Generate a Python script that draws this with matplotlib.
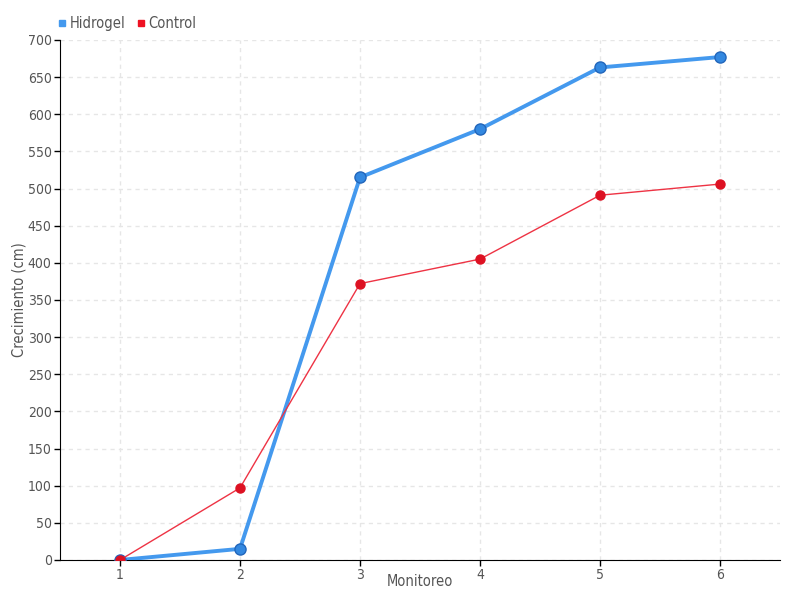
import numpy as np
import matplotlib.pyplot as plt
from matplotlib.lines import Line2D

monitoreo = [1, 2, 3, 4, 5, 6]
hidrogel = [0, 15, 515, 580, 663, 677]
control = [0, 97, 372, 405, 491, 506]
y_ticks = list(range(0, 701, 50))

plt.rcParams['font.family'] = ['DejaVu Sans']
plt.rcParams['font.stretch'] = 'condensed'

fig = plt.figure(figsize=(8, 6), dpi=100)
ax = fig.add_axes([0.075, 0.0667, 0.9, 0.8667])

txt = '#555555'
ax.plot(monitoreo, hidrogel, color='#4499ee', lw=2.8, marker='o', ms=8,
        mfc='#3388e0', mec='#2266bb', mew=1, zorder=3)
ax.plot(monitoreo, control, color='#ee3344', lw=1, marker='o', ms=6.5,
        mfc='#dd1122', mec='#dd1122', zorder=4)

ax.set_xlim(0.5, 6.5)
ax.set_ylim(0, 700)
ax.set_xticks(monitoreo)
ax.set_yticks(y_ticks)
ax.grid(True, color='#e6e6e6', ls=(0, (3, 3)), lw=1)
ax.set_axisbelow(True)
for s in ['top', 'right']:
    ax.spines[s].set_visible(False)
ax.spines['left'].set_color('black')
ax.spines['bottom'].set_color('black')
ax.tick_params(axis='both', colors='black', labelcolor=txt, labelsize=10, length=4, width=1, pad=2)
ax.set_xlabel('Monitoreo', color=txt, fontsize=10.5)
ax.xaxis.set_label_coords(0.5, -0.027)
ax.set_ylabel('Crecimiento (cm)', color=txt, fontsize=10.5)
ax.yaxis.set_label_coords(-0.047, 0.5)

handles = [Line2D([], [], ls='', marker='s', ms=5, color='#4499ee'),
           Line2D([], [], ls='', marker='s', ms=5, color='#ee1122')]
fig.legend(handles, ['Hidrogel', 'Control'], loc='upper left', bbox_to_anchor=(0.052, 0.995),
           ncol=2, frameon=False, fontsize=10.5, labelcolor=txt, handletextpad=0.0,
           columnspacing=0.6, handlelength=1.0)

fig.savefig('out.png')
